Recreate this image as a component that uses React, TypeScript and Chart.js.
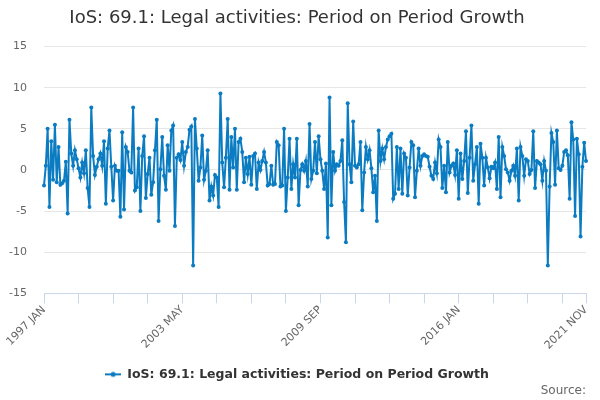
import React, { useEffect, useRef } from "react";
import { Chart, registerables } from "chart.js";

Chart.register(...registerables);

const FONT = "'DejaVu Sans', Verdana, sans-serif";
const LINE_COLOR = "#0b7cc1";

const seriesName = "IoS: 69.1: Legal activities: Period on Period Growth";
const firstYear = 1997;
const monthNames = ["JAN", "FEB", "MAR", "APR", "MAY", "JUN", "JUL", "AUG", "SEP", "OCT", "NOV", "DEC"];
const tickLabels = ["1997 JAN", "2003 MAY", "2009 SEP", "2016 JAN", "2021 NOV"];

// monthly growth, %
const jan1997ToNov1999 = [
  -1.9, 0.5, 5.0, -4.5, 3.5, -1.2, 5.5, -1.5, 2.8, -1.8, -1.6, -1.3, 1.0, -5.3, 6.1, 2.0, 0.5, 2.4,
  1.3, 0.2, -0.9, 0.9, -0.4, 2.4, -2.2, -4.5, 7.6, 1.7, -0.6, 0.4, 1.3, 2.0, 0.5, 3.5, -4.1,
];
const dec1999ToDec2002 = [
  2.6, 4.8, 0.4, -3.7, 0.5, -0.1, -0.1, -5.7, 4.6, -4.8, 2.8, 2.2, -0.1, -0.3, 7.6, -2.5, -2.1, 2.6,
  -5.0, 1.7, 4.1, -3.4, -0.5, 1.5, -3.0, -1.5, 2.4, 6.1, -6.2, 0.1, 4.0, -0.7, -2.4, 3.0, -0.1, 4.8, 5.4,
];
const jan2003ToJan2006 = [
  -6.8, 1.5, 1.9, 1.2, 3.4, 0.5, 2.2, 2.8, 4.9, 5.3, -11.6, 6.2, 2.6, -1.3, 0.3, 4.2, -1.2, -0.1, 2.4,
  -3.7, -2.0, -3.1, -0.6, -0.9, -4.5, 9.3, 0.9, -2.1, 1.5, 6.2, -2.4, 4.0, 0.3, 5.0, -2.4, 3.4, 3.8,
];
const feb2006ToFeb2009 = [
  2.2, -1.5, 1.5, -0.5, 1.6, -1.8, 1.7, 2.0, -2.3, 0.9, 0.0, 1.1, 2.2, 0.9, -1.9, -1.7, 0.5, -1.8, -1.7,
  3.4, 3.0, -2.0, -1.9, 5.0, -5.0, -0.9, 3.8, -2.3, 0.7, -0.9, 3.8, -4.3, 0.0, 0.7, -0.1, 1.1, -2.0,
];
const mar2009ToMar2012 = [
  5.6, -1.1, -0.1, 3.4, -0.4, 4.1, 1.3, -0.1, -2.3, 0.8, -8.2, 8.8, -4.3, 2.2, -0.1, 0.7, 0.5, 1.1, 3.6,
  -3.9, -8.8, 8.1, 0.7, -1.5, 5.9, 0.5, 0.3, 0.7, 3.4, -4.9, -0.3, 2.8, 1.3, 2.4, 0.2, -2.7, -0.7,
];
const apr2012ToApr2015 = [
  -6.2, 4.8, 1.1, 2.6, 1.3, 2.8, 3.7, 4.1, 4.4, -3.5, -2.9, 2.8, -2.3, 2.6, -2.9, 2.0, 1.5, -3.1, 0.3,
  3.4, 3.0, -3.3, -0.1, 2.6, 0.5, 1.7, 1.9, 1.7, 1.6, 0.4, -0.7, -1.1, 0.9, -0.4, 3.7, 2.8, -2.2,
];
const may2015ToApr2018 = [
  0.5, -2.7, 3.4, -0.3, 0.5, 0.8, -0.6, 2.4, -3.5, 2.0, -1.1, 1.1, 4.7, -2.8, 1.5, 5.4, -1.3, 0.7,
  2.8, -4.1, 3.2, 1.5, -1.9, 1.5, 0.3, -1.0, 0.4, 0.2, 0.9, -2.3, 4.0, -3.3, 2.8, 1.7, 0.1, -0.3,
];
const may2018ToNov2021 = [
  -1.3, -0.1, 0.5, -0.7, 2.6, -3.7, 2.8, 1.7, -0.7, 1.3, 1.1, -0.5, 0.0, 4.7, -2.2, 1.1, 0.9, 0.7,
  -1.3, 1.1, -0.1, -11.6, -2.0, 4.5, 3.4, -1.8, 4.8, 0.2, 0.0, 0.5, 2.2, 2.4, 1.8, -3.5, 5.8, 3.7,
  -5.6, 3.8, 1.9, -8.1, 0.4, 3.3, 1.1,
];

const growth = [
  ...jan1997ToNov1999,
  ...dec1999ToDec2002,
  ...jan2003ToJan2006,
  ...feb2006ToFeb2009,
  ...mar2009ToMar2012,
  ...apr2012ToApr2015,
  ...may2015ToApr2018,
  ...may2018ToNov2021,
];

const months = growth.map(
  (_, i) => `${firstYear + Math.floor(i / 12)} ${monthNames[i % 12]}`
);

function legendMarker(color: string) {
  const c = document.createElement("canvas");
  c.width = 16;
  c.height = 8;
  const g = c.getContext("2d")!;
  g.strokeStyle = color;
  g.lineWidth = 2;
  g.beginPath();
  g.moveTo(0, 4);
  g.lineTo(16, 4);
  g.stroke();
  g.fillStyle = color;
  g.beginPath();
  g.arc(8, 4, 2.5, 0, Math.PI * 2);
  g.fill();
  return c;
}

const App: React.FC = () => {
  const canvasRef = useRef<HTMLCanvasElement>(null);
  const chartRef = useRef<Chart | null>(null);

  useEffect(() => {
    document.body.style.margin = "0";
    if (chartRef.current) chartRef.current.destroy();
    const last = months.length - 1;
    const hasTick = (i: number) => i % 19 === 0 || i === last;

    chartRef.current = new Chart(canvasRef.current!.getContext("2d")!, {
      type: "line",
      data: {
        labels: months,
        datasets: [
          {
            label: seriesName,
            data: growth,
            borderColor: LINE_COLOR,
            backgroundColor: LINE_COLOR,
            borderWidth: 2,
            pointRadius: 2,
            pointHoverRadius: 3,
            pointBorderWidth: 0,
            tension: 0,
          },
        ],
      },
      options: {
        animation: false,
        responsive: true,
        maintainAspectRatio: false,
        layout: { padding: { left: 8, right: 14, bottom: 0 } },
        scales: {
          x: {
            afterFit: (scale: any) => {
              // let the rotated first label hang into the margin
              scale.paddingLeft = 0;
              scale.paddingRight = 0;
              scale.height += 6;
            },
            grid: {
              drawOnChartArea: false,
              tickLength: 10,
              tickColor: (ctx: any) => (hasTick(ctx.index) ? "#ccd6eb" : "transparent"),
            },
            border: { color: "#ccd6eb" },
            ticks: {
              autoSkip: false,
              minRotation: 45,
              maxRotation: 45,
              padding: 0,
              color: "#666666",
              font: { family: FONT, size: 11 },
              callback: (_v: any, i: number) =>
                tickLabels.includes(months[i]) ? months[i] : "",
            },
          },
          y: {
            min: -15,
            max: 15,
            afterFit: (scale: any) => {
              scale.width = 36;
            },
            border: { display: false },
            grid: {
              drawTicks: false,
              color: (ctx: any) => (ctx.tick.value === -15 ? "transparent" : "#e6e6e6"),
            },
            ticks: {
              stepSize: 5,
              padding: 17,
              color: "#666666",
              font: { family: FONT, size: 11 },
            },
          },
        },
        plugins: {
          title: {
            display: true,
            text: seriesName,
            color: "#333333",
            font: { family: FONT, size: 18, weight: "normal" },
            padding: { top: 8, bottom: 17 },
          },
          subtitle: {
            display: true,
            text: "Source:",
            position: "bottom",
            align: "end",
            color: "#666666",
            font: { family: FONT, size: 12, weight: "normal" },
            padding: { top: -7, bottom: 2 },
          },
          legend: {
            position: "bottom",
            labels: {
              usePointStyle: true,
              pointStyle: legendMarker(LINE_COLOR) as any,
              pointStyleWidth: 16,
              color: "#333333",
              font: { family: FONT, size: 12.5, weight: "bold" },
              padding: 10,
            },
          },
          tooltip: { enabled: false },
        },
      },
    });

    return () => {
      if (chartRef.current) {
        chartRef.current.destroy();
        chartRef.current = null;
      }
    };
  }, []);

  return (
    <div style={{ position: "relative", width: 600, height: 400 }}>
      <canvas ref={canvasRef} />
    </div>
  );
};

export default App;
